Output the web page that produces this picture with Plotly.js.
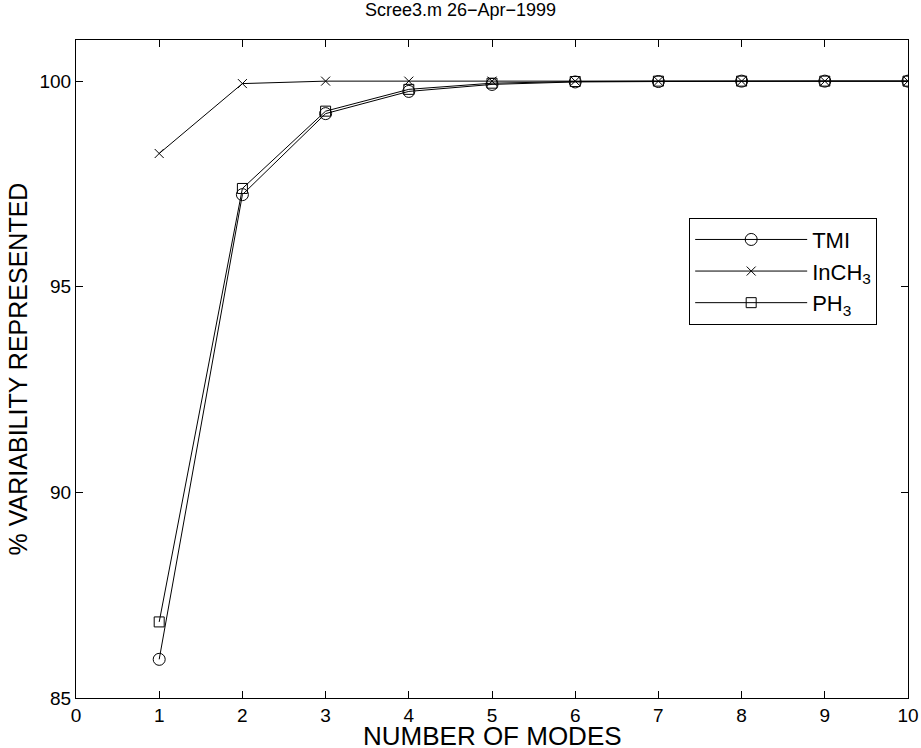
<!DOCTYPE html>
<html><head><meta charset="utf-8">
<script src="https://cdn.plot.ly/plotly-3.0.1.min.js"></script>
<style>body{margin:0;background:#fff}</style>
</head><body><div id="chart" style="width:921px;height:748px"></div>
<script>
const modes = [1,2,3,4,5,6,7,8,9,10];
const tmi   = [85.94,97.24,99.21,99.75,99.92,99.98,99.99,100.0,100.0,100.0];
const inch3 = [98.24,99.94,100.0,100.0,100.0,100.0,100.0,100.0,100.0,100.0];
const ph3   = [86.85,97.39,99.27,99.80,99.95,99.99,100.0,100.0,100.0,100.0];
const names = ['TMI','InCH<sub>3</sub>','PH<sub>3</sub>'];
const xTicks = [0,1,2,3,4,5,6,7,8,9,10];
const yTicks = [85,90,95,100];

const line = {color:'#000', width:1};
const traces = [
  {x:modes,y:tmi,name:names[0],mode:'lines+markers',line:line,marker:{symbol:'circle-open',size:12,color:'#000',line:{width:1}}},
  {x:modes,y:inch3,name:names[1],mode:'lines+markers',line:line,marker:{symbol:'x-thin-open',size:9,color:'#000',line:{width:1}}},
  {x:modes,y:ph3,name:names[2],mode:'lines+markers',line:line,marker:{symbol:'square-open',size:10,color:'#000',line:{width:1}}}
];
const fam = 'Liberation Sans, Arial, Helvetica, sans-serif';
const tf = {family:fam, size:19, color:'#000'};
const axis = {showgrid:false, zeroline:false, showline:true, linecolor:'#000', linewidth:1, mirror:'ticks', ticks:'inside', ticklen:7, tickcolor:'#000', tickfont:tf, tickmode:'array'};
const layout = {
  width:921, height:748,
  font:{family:fam, size:19, color:'#000'},
  paper_bgcolor:'#fff', plot_bgcolor:'#fff',
  margin:{l:76, r:13, t:40, b:50},
  title:{text:'Scree3.m 26\u2212Apr\u22121999', font:{size:18}, x:0.5, xanchor:'center', y:0.995, yanchor:'top'},
  xaxis:Object.assign({}, axis, {range:[0,10], tickvals:xTicks, ticktext:xTicks.map(String)}),
  yaxis:Object.assign({}, axis, {range:[85,101], tickvals:yTicks, ticktext:yTicks.map(String), title:{text:'% VARIABILITY REPRESENTED', font:{size:25}, standoff:4}}),
  annotations:[{text:'NUMBER OF MODES', xref:'paper', yref:'paper', x:0.5, y:-0.058, xanchor:'center', yanchor:'middle', showarrow:false, font:{size:26}}],
  showlegend:true,
  legend:{x:0.737, y:0.73, xanchor:'left', yanchor:'top', bordercolor:'#000', borderwidth:1, bgcolor:'#fff', font:{size:22}, itemwidth:112, tracegroupgap:0}
};
Plotly.newPlot('chart', traces, layout, {displayModeBar:false, staticPlot:true});
</script></body></html>
